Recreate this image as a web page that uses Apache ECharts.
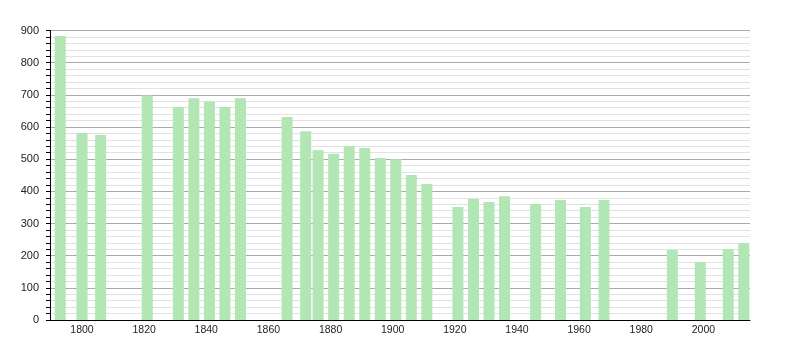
<!DOCTYPE html>
<html>
<head>
<meta charset="utf-8">
<script src="https://cdn.jsdelivr.net/npm/echarts@6/dist/echarts.min.js"></script>
<style>html,body{margin:0;padding:0;background:#fff}#c{width:800px;height:350px}</style>
</head>
<body>
<div id="c"></div>
<script>
const years = [1793,1800,1806,1821,1831,1836,1841,1846,1851,1866,1872,1876,1881,1886,1891,1896,1901,1906,1911,1921,1926,1931,1936,1946,1954,1962,1968,1990,1999,2008,2013];
const population = [883,581,575,698,662,689,679,662,689,631,587,528,517,541,535,504,500,451,423,351,376,367,385,361,373,351,373,218,180,221,239];
const xTickLabels = [1800,1820,1840,1860,1880,1900,1920,1940,1960,1980,2000];

const chart = echarts.init(document.getElementById('c'), null, {renderer:'canvas'});
chart.setOption({
  animation:false,
  backgroundColor:'#fff',
  grid:{left:50,right:50,top:30.5,bottom:30,containLabel:false},
  xAxis:{
    type:'value', min:1789.7, max:2015,
    axisLine:{show:true,lineStyle:{color:'#000',width:1}},
    axisTick:{show:false},
    splitLine:{show:false},
    axisLabel:{customValues:xTickLabels,formatter:v=>String(v),color:'#222',fontSize:10.5,fontFamily:'Liberation Sans, Arial, sans-serif',margin:5}
  },
  yAxis:{
    type:'value', min:0, max:900, interval:100,
    axisLine:{show:true,lineStyle:{color:'#000',width:1}},
    axisTick:{show:true,length:4,lineStyle:{color:'#000'}},
    minorTick:{show:true,splitNumber:5,length:4,lineStyle:{color:'#000'}},
    splitLine:{show:true,lineStyle:{color:'#aaa',width:1}},
    minorSplitLine:{show:true,lineStyle:{color:'#e2e2e2',width:1}},
    axisLabel:{formatter:v=>String(v),color:'#222',fontSize:11,fontFamily:'Liberation Sans, Arial, sans-serif',margin:11}
  },
  series:[{
    type:'bar',
    data: years.map((y,i)=>[y,population[i]]),
    barWidth:11,
    itemStyle:{color:'#b2e6b4'}
  }]
});
</script>
</body>
</html>
